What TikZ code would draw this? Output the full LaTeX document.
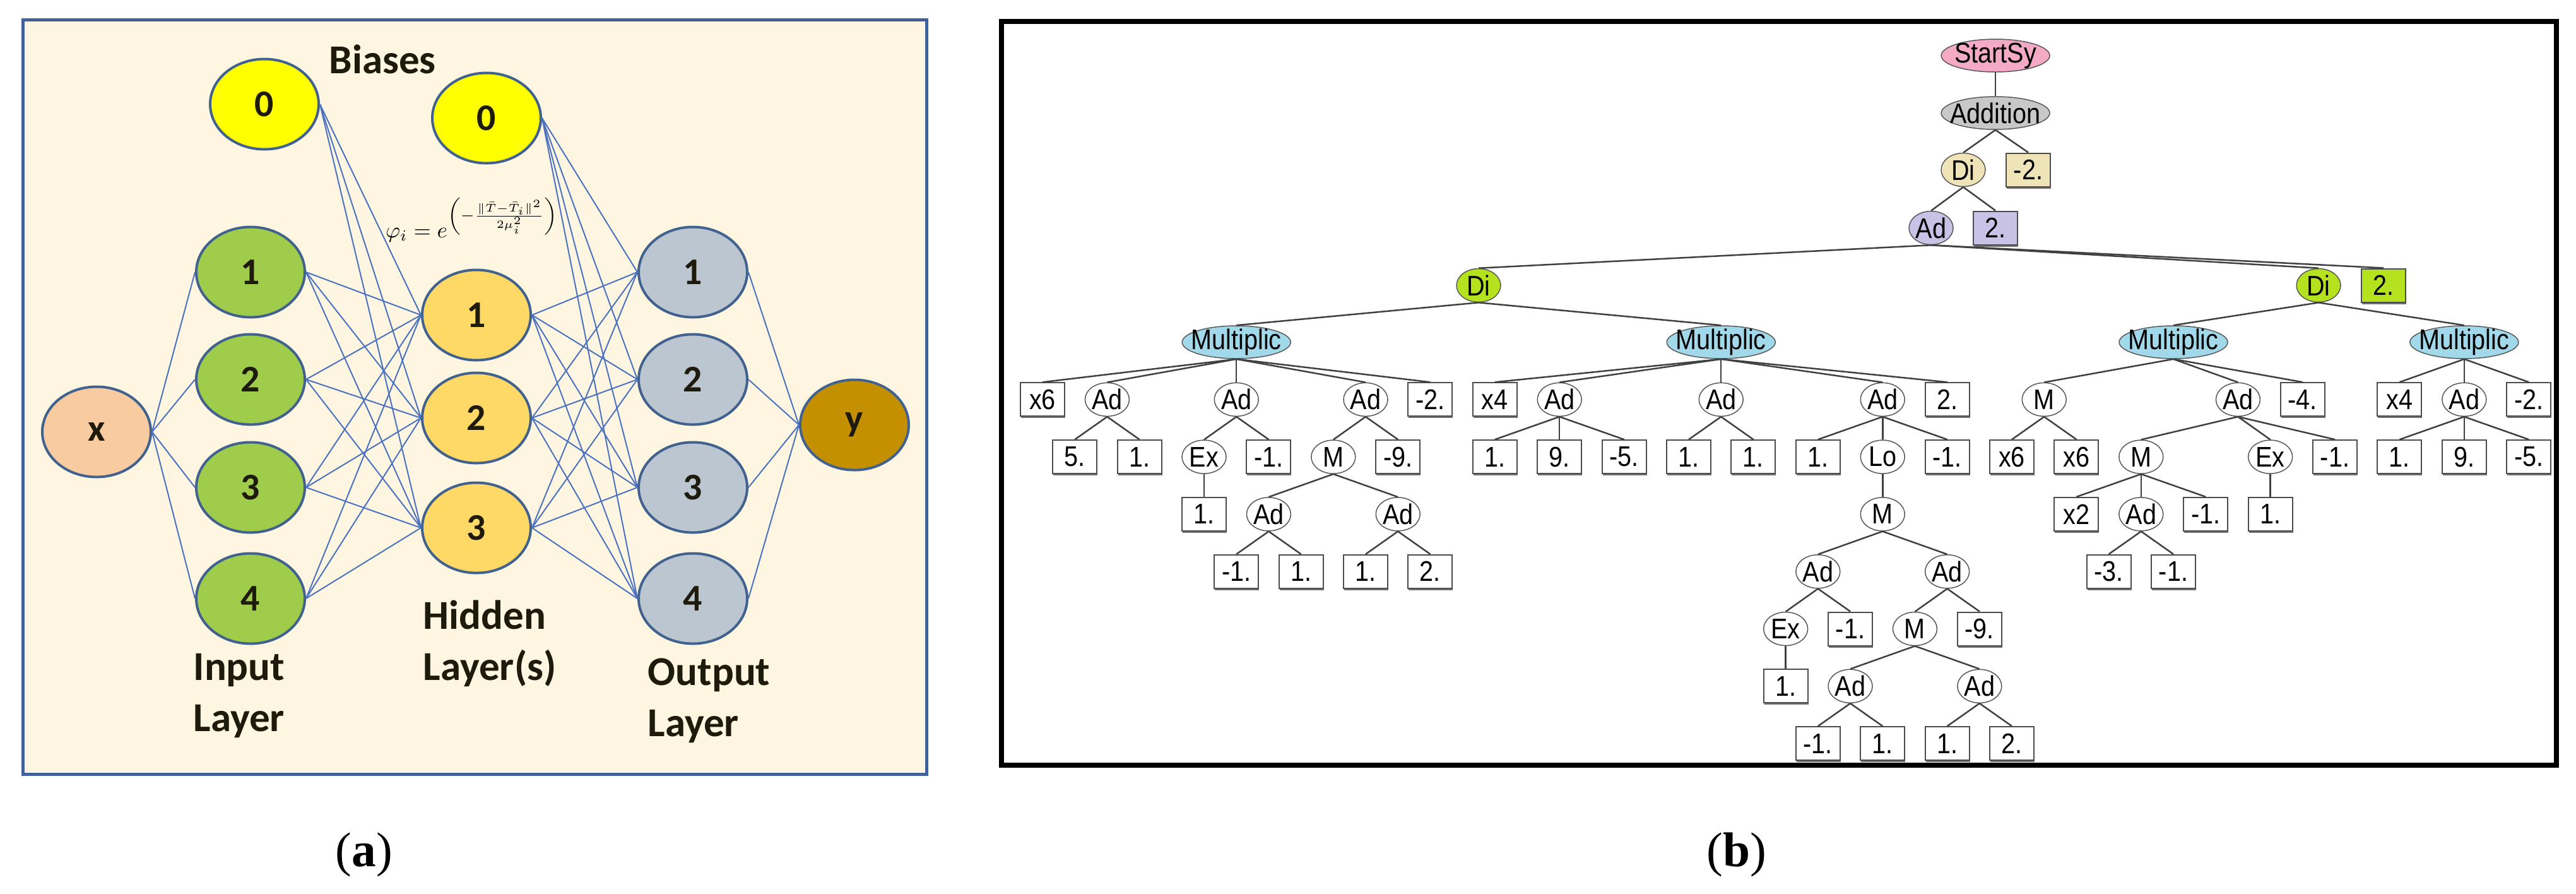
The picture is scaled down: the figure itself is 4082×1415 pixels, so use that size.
\documentclass[tikz,border=0pt]{standalone}
\usepackage{xcolor}
\usepackage{fontspec}
\usepackage{amsmath}
\usepackage{tikz}
\usetikzlibrary{shapes,positioning,shapes.geometric,calc,shadows}
\newfontfamily\calfont{Carlito}
\newfontfamily\treefont[FakeStretch=0.88]{Liberation Sans}
\newfontfamily\capfont{Liberation Serif}
\definecolor{framecream}{HTML}{FEF6E0}
\definecolor{frameblue}{HTML}{41619A}
\definecolor{ringblue}{HTML}{41618F}
\definecolor{wireblue}{HTML}{4A72C0}
\definecolor{biasyellow}{HTML}{FFFF00}
\definecolor{inputgreen}{HTML}{9FCD4B}
\definecolor{hiddengold}{HTML}{FFD966}
\definecolor{outputgrey}{HTML}{BCC6D0}
\definecolor{xpeach}{HTML}{F8CBA0}
\definecolor{ygold}{HTML}{C49000}
\definecolor{inkdark}{HTML}{1E1A0C}
\definecolor{startpink}{HTML}{F4A9C5}
\definecolor{addgrey}{HTML}{C8C8C8}
\definecolor{divbeige}{HTML}{EFE4B8}
\definecolor{adlilac}{HTML}{C8C2E6}
\definecolor{divlime}{HTML}{B4E21E}
\definecolor{mulblue}{HTML}{A2D9EA}

\begin{document}
\begin{tikzpicture}[x=0.1mm, y=-0.1mm,
        neuron/.style={ellipse, draw=ringblue, line width=0.4mm,
                minimum width=17.2mm, minimum height=14.3mm, inner sep=0pt,
                font=\calfont\bfseries\fontsize{17}{20}\selectfont, text=inkdark},
        layername/.style={anchor=base west, align=left, inner sep=0pt,
                font=\calfont\bfseries\fontsize{18.5}{23}\selectfont, text=inkdark},
        wire/.style={wireblue, line width=0.2mm},
        opnode/.style={ellipse, draw=black!65, line width=0.15mm, fill=white,
                minimum width=7mm, minimum height=5.3mm, inner sep=0pt,
                font=\treefont\fontsize{12.8}{14}\selectfont},
        wideop/.style={opnode, minimum width=17.2mm, minimum height=5.2mm,
                inner xsep=-1.5mm, inner ysep=-0.4mm},
        leaf/.style={rectangle, draw=black!70, line width=0.2mm, fill=white,
                minimum width=7mm, minimum height=5.3mm, inner sep=0pt,
                drop shadow={shadow xshift=0.1mm, shadow yshift=-0.3mm, fill=black!55, opacity=1},
                font=\treefont\fontsize{12.8}{14}\selectfont},
        branch/.style={black!75, line width=0.25mm},
        panel/.style={font=\capfont\fontsize{22}{26}\selectfont}]
    \useasboundingbox (0,0) rectangle (4082,1415);

    \draw[frameblue, line width=0.5mm, fill=framecream] (36,31) rectangle (1468,1226);
    \node[neuron, fill=biasyellow] (b1) at (419,165) {0};
    \node[neuron, fill=biasyellow] (b2) at (771,187) {0};
    \node[neuron, fill=xpeach] (x) at (153,684) {x};
    \foreach \i/\yy in {1/431,2/601,3/772,4/948}
        \node[neuron, fill=inputgreen] (in\i) at (397,\yy) {\i};
    \foreach \i/\yy in {1/499,2/662,3/836}
        \node[neuron, fill=hiddengold] (hid\i) at (755,\yy) {\i};
    \foreach \i/\yy in {1/431,2/601,3/772,4/948}
        \node[neuron, fill=outputgrey] (out\i) at (1098,\yy) {\i};
    \node[neuron, fill=ygold] (y) at (1354,673) {y};

    \foreach \i in {1,...,4} {
        \draw[wire] (x.east) -- (in\i.west);
        \draw[wire] (b2.east) -- (out\i.west);
        \draw[wire] (out\i.east) -- (y.west);
        \foreach \j in {1,2,3} {
            \draw[wire] (in\i.east) -- (hid\j.west);
            \draw[wire] (hid\j.east) -- (out\i.west);
        }
    }
    \foreach \j in {1,2,3}
        \draw[wire] (b1.east) -- (hid\j.west);

    \node[layername] (biaslabel) at (521,116) {Biases};
    \node[layername] (inlabel) at (306,1158) {Input\\Layer};
    \node[layername] (hidlabel) at (670,1077) {Hidden\\Layer(s)};
    \node[layername] (outlabel) at (1026,1166) {Output\\Layer};
    \node[font=\fontsize{10}{12}\selectfont, inner sep=0pt] (rbf) at (748,348)
        {$\varphi_i=e^{\left(-\frac{\lVert\bar{T}-\bar{T}_i\rVert^2}{2\mu_i^2}\right)}$};
    \node[panel] (capa) at (577,1354) {(\textbf{a})};

    \draw[line width=0.8mm] (1587,34) rectangle (4051,1212);
    \node[wideop, fill=startpink] (t0-59) at (3162,88) {StartSy};
    \node[wideop, fill=addgrey] (t1-59) at (3162,179) {Addition};
    \node[opnode, fill=divbeige] (t2-57) at (3111,269) {Di};
    \node[leaf, fill=divbeige] (t2-61) at (3214,269) {-2.};
    \node[opnode, fill=adlilac] (t3-55) at (3060,361) {Ad};
    \node[leaf, fill=adlilac] (t3-59) at (3162,361) {2.};
    \node[opnode, fill=divlime] (t4-27) at (2343,452) {Di};
    \node[opnode, fill=divlime] (t4-79) at (3674,452) {Di};
    \node[leaf, fill=divlime] (t4-83) at (3777,452) {2.};
    \foreach \hp in {12,42,70,88}
        \node[wideop, fill=mulblue] (t5-\hp) at ({1652+25.6*\hp},542) {Multiplic};

    \foreach \lv/\hp/\lab in {6/4/Ad, 6/12/Ad, 6/20/Ad, 6/32/Ad, 6/42/Ad, 6/52/Ad, 6/62/M,
            6/74/Ad, 6/88/Ad, 7/10/Ex, 7/18/M, 7/52/Lo, 7/68/M, 7/76/Ex, 8/14/Ad, 8/22/Ad,
            8/52/M, 8/68/Ad, 9/48/Ad, 9/56/Ad, 10/46/Ex, 10/54/M, 11/50/Ad, 11/58/Ad}
        \node[opnode] (t\lv-\hp) at ({1652+25.6*\hp},{88+90.8*\lv}) {\lab};
    \foreach \lv/\hp/\lab in {6/0/x6, 6/24/-2., 6/28/x4, 6/56/2., 6/78/-4., 6/84/x4, 6/92/-2.,
            7/2/5., 7/6/1., 7/14/-1., 7/22/-9., 7/28/1., 7/32/9., 7/36/-5., 7/40/1., 7/44/1.,
            7/48/1., 7/56/-1., 7/60/x6, 7/64/x6, 7/80/-1., 7/84/1., 7/88/9., 7/92/-5.,
            8/10/1., 8/64/x2, 8/72/-1., 8/76/1., 9/12/-1., 9/16/1., 9/20/1., 9/24/2.,
            9/66/-3., 9/70/-1., 10/50/-1., 10/58/-9., 11/46/1.,
            12/48/-1., 12/52/1., 12/56/1., 12/60/2.}
        \node[leaf] (t\lv-\hp) at ({1652+25.6*\hp},{88+90.8*\lv}) {\lab};

    \foreach \p/\c in {t0-59/t1-59, t1-59/t2-57, t1-59/t2-61, t2-57/t3-55, t2-57/t3-59,
            t3-55/t4-27, t3-55/t4-79, t3-55/t4-83, t4-27/t5-12, t4-27/t5-42, t4-79/t5-70,
            t4-79/t5-88, t5-12/t6-0, t5-12/t6-4, t5-12/t6-12, t5-12/t6-20, t5-12/t6-24,
            t5-42/t6-28, t5-42/t6-32, t5-42/t6-42, t5-42/t6-52, t5-42/t6-56,
            t5-70/t6-62, t5-70/t6-74, t5-70/t6-78, t5-88/t6-84, t5-88/t6-88, t5-88/t6-92,
            t6-4/t7-2, t6-4/t7-6, t6-12/t7-10, t6-12/t7-14, t6-20/t7-18, t6-20/t7-22,
            t6-32/t7-28, t6-32/t7-32, t6-32/t7-36, t6-42/t7-40, t6-42/t7-44,
            t6-52/t7-48, t6-52/t7-52, t6-52/t7-56, t6-62/t7-60, t6-62/t7-64,
            t6-74/t7-68, t6-74/t7-76, t6-74/t7-80, t6-88/t7-84, t6-88/t7-88, t6-88/t7-92,
            t7-10/t8-10, t7-18/t8-14, t7-18/t8-22, t7-52/t8-52, t7-68/t8-64, t7-68/t8-68,
            t7-68/t8-72, t7-76/t8-76, t8-14/t9-12, t8-14/t9-16, t8-22/t9-20, t8-22/t9-24,
            t8-52/t9-48, t8-52/t9-56, t8-68/t9-66, t8-68/t9-70, t9-48/t10-46, t9-48/t10-50,
            t9-56/t10-54, t9-56/t10-58, t10-46/t11-46, t10-54/t11-50, t10-54/t11-58,
            t11-50/t12-48, t11-50/t12-52, t11-58/t12-56, t11-58/t12-60}
        \draw[branch] (\p.south) -- (\c.north);
    \node[panel] (capb) at (2752,1354) {(\textbf{b})};
\end{tikzpicture}
\end{document}
